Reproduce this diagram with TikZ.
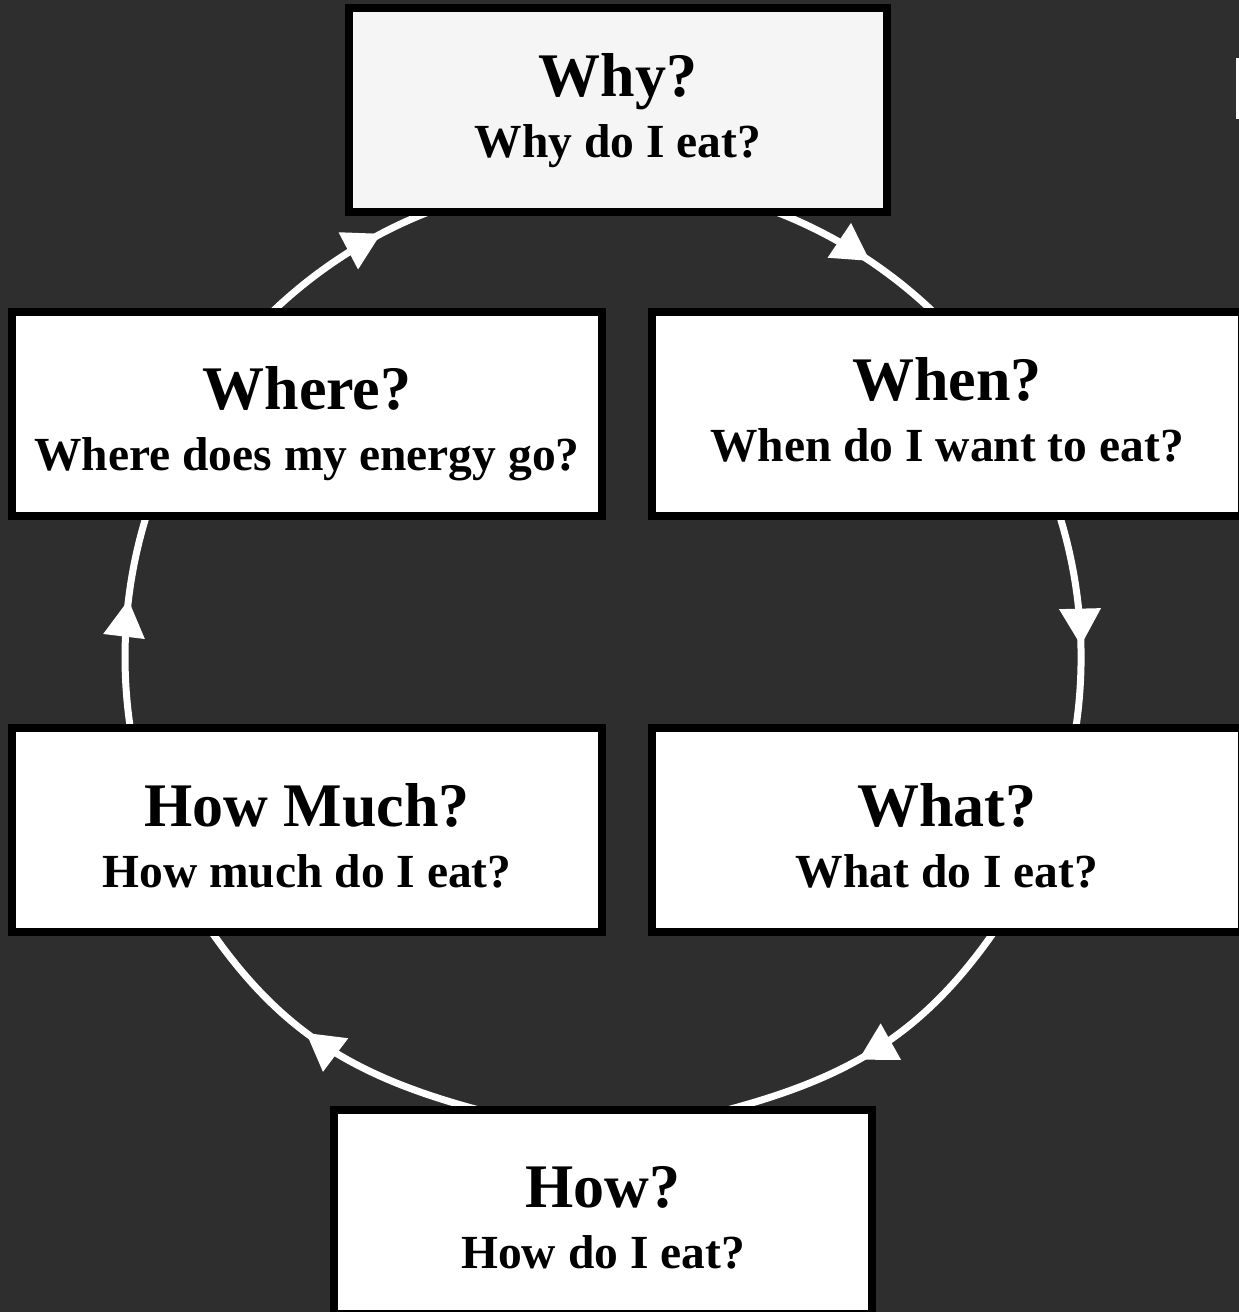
\documentclass[tikz,border=0pt]{standalone}
\usepackage{fontspec}
\setmainfont{Liberation Serif}
\usepackage{xcolor}
\usetikzlibrary{arrows.meta,decorations.markings,backgrounds}
\definecolor{darkbg}{HTML}{2E2E2E}
\definecolor{paleq}{HTML}{F5F5F5}
\newcommand\qtext[2]{\fontsize{47.5}{61}\selectfont\bfseries
  \begin{tabular}[t]{@{}c@{}}{\fontsize{62}{61}\selectfont #1}\\#2\end{tabular}}

\begin{document}
\begin{tikzpicture}[
x=1pt, y=1pt,
qbox/.style={draw=black, line width=8pt, fill=white, minimum width=590pt, minimum height=204pt,
  inner sep=0pt, outer sep=0pt, text height=50pt, text depth=58pt},
narrow/.style={minimum width=538pt},
high/.style={text depth=77pt},
flow/.style={draw=white, line width=7pt, postaction={decorate},
  decoration={markings, mark=at position #1 with {\arrow{Triangle[length=37pt,width=40pt]}}}}
]
\useasboundingbox (0,0) rectangle (1239,1312);
\begin{scope}[on background layer]
\fill[darkbg] (0,0) rectangle (1239,1312);
\end{scope}

\node[qbox, narrow, high, fill=paleq] (why) at (618,1201.5) {\qtext{Why?}{Why do I eat?}};
\node[qbox, high] (when) at (947,898) {\qtext{When?}{When do I want to eat?}};
\node[qbox] (what) at (947,481.5) {\qtext{What?}{What do I eat?}};
\node[qbox, narrow] (how) at (603,100) {\qtext{How?}{How do I eat?}};
\node[qbox] (howmuch) at (307,481.5) {\qtext{How Much?}{How much do I eat?}};
\node[qbox] (where) at (307,898) {\qtext{Where?}{Where does my energy go?}};

% clipped edge at the top right
\fill[white] (1235.5,1193) rectangle (1240,1254);

% the cycle, one arc per step
\begin{scope}[on background layer]
\draw[flow=0.56] ([xshift=159.5pt]why.south) arc[start angle=68.6, end angle=46.2, radius=478];
\draw[flow=0.61] ([xshift=112.7pt]when.south) arc[start angle=17.2, end angle=-8.7, radius=478];
\draw[flow=0.57] ([xshift=46.6pt]what.south) to[out=-125, in=15] ([xshift=124pt]how.north);
\draw[flow=0.58] ([xshift=-124pt]how.north) to[out=165, in=-55] ([xshift=-95pt]howmuch.south);
\draw[flow=0.60] ([xshift=-176.6pt]howmuch.north) arc[start angle=188.6, end angle=162.8, radius=478];
\draw[flow=0.72] ([xshift=-34.8pt]where.north) arc[start angle=133.8, end angle=111.4, radius=478];
\end{scope}
\end{tikzpicture}
\end{document}
